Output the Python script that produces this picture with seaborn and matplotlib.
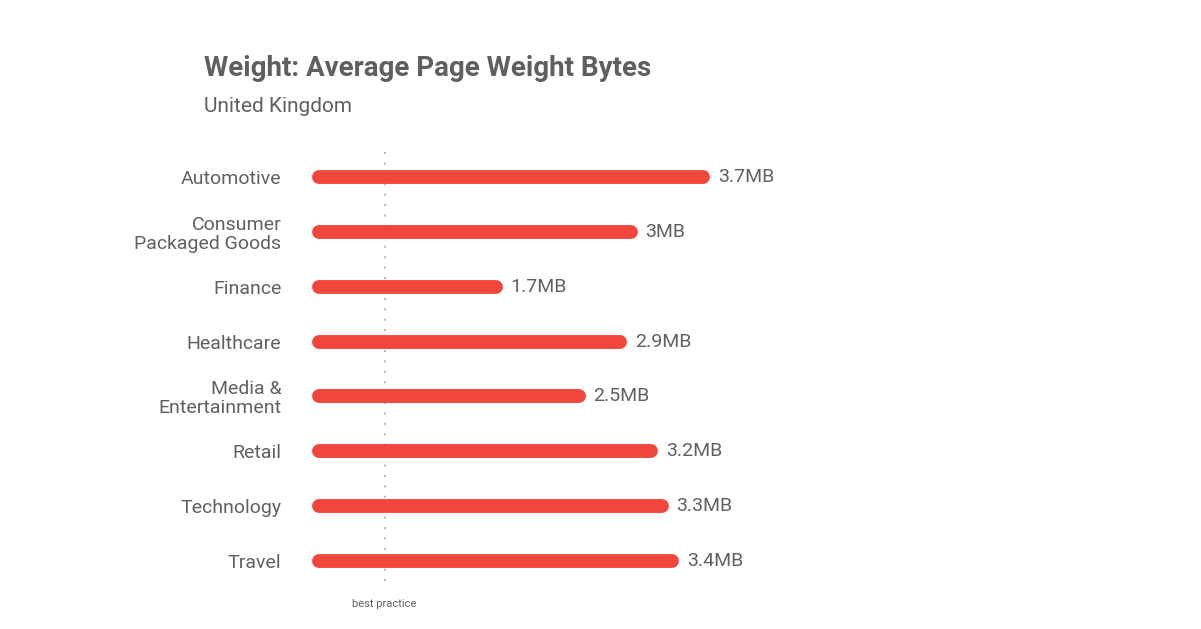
import matplotlib.pyplot as plt
import seaborn as sns

categories = ["Automotive", "Consumer\nPackaged Goods", "Finance", "Healthcare",
              "Media &\nEntertainment", "Retail", "Technology", "Travel"]
weights_mb = [3.7, 3.0, 1.7, 2.9, 2.5, 3.2, 3.3, 3.4]
value_labels = ["3.7MB", "3MB", "1.7MB", "2.9MB", "2.5MB", "3.2MB", "3.3MB", "3.4MB"]
best_practice_mb = 0.63

sns.set_theme(style="white", font="Roboto")
RED = "#f0463c"
GREY = "#5f5f5f"

W, H = 1201, 629
fig = plt.figure(figsize=(W / 100, H / 100), dpi=100)
ax = fig.add_axes([312 / W, 1 - 588.5 / H, 788 / W, 439 / H])

ypos = list(range(len(categories)))
ax.hlines(ypos, 0, weights_mb, color=RED, linewidth=10, capstyle="round")
for y, v, lab in zip(ypos, weights_mb, value_labels):
    ax.text(v + 0.14, y, lab, va="center", ha="left", fontsize=14, color=GREY)

ax.vlines(best_practice_mb, -0.45, 7.4, color="#bbbbbb", linewidth=1.5,
          linestyles=(0, (1, 4)), zorder=0)

ax.set_xlim(-0.07, 7.52)
ax.set_ylim(7.5, -0.5)
ax.set_yticks(ypos)
ax.set_yticklabels(categories, fontsize=14, color=GREY, linespacing=1.05)
ax.tick_params(axis="y", length=0, pad=22)
ax.set_xticks([])
sns.despine(ax=ax, left=True, bottom=True)

fig.text(204 / W, 1 - 68 / H, "Weight: Average Page Weight Bytes", fontsize=20,
         fontweight="bold", color=GREY, va="center")
fig.text(204 / W, 1 - 106 / H, "United Kingdom", fontsize=15, color=GREY, va="center")
fig.text(384 / W, 1 - 604 / H, "best practice", fontsize=8, color=GREY,
         ha="center", va="center")

fig.savefig("out.png", dpi=100)
